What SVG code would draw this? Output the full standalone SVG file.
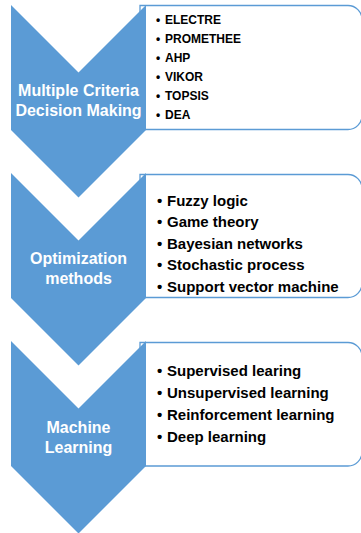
<svg xmlns="http://www.w3.org/2000/svg" width="361" height="533" viewBox="0 0 361 533">
<style>
.chev{fill:#5b9bd5;stroke:none}
.box{fill:#ffffff;stroke:#5b9bd5;stroke-width:1.3}
.lbl{font-family:"Liberation Sans",Arial,sans-serif;font-weight:bold;font-size:16px;fill:#ffffff;text-anchor:middle}
.it1{font-family:"Liberation Sans",Arial,sans-serif;font-weight:bold;font-size:12px;fill:#000000}
.it2{font-family:"Liberation Sans",Arial,sans-serif;font-weight:bold;font-size:15px;fill:#000000}
</style>
<rect width="361" height="533" fill="#ffffff"/>
<g id="connectors"></g>
<g id="node-mcdm">
<path class="box" d="M140,5.5 H348 A14,14 0 0 1 362,19.5 V115.5 A14,14 0 0 1 348,129.5 H140 Z"/>
<polygon class="chev" points="11,5 78.5,72.5 146,5 146,130 78.5,197.5 11,130"/>
<text class="lbl" x="78.5" y="96">Multiple Criteria</text>
<text class="lbl" x="78.5" y="116">Decision Making</text>
<text class="it1"><tspan x="156" y="24">•</tspan><tspan x="165" y="24">ELECTRE</tspan></text>
<text class="it1"><tspan x="156" y="43">•</tspan><tspan x="165" y="43">PROMETHEE</tspan></text>
<text class="it1"><tspan x="156" y="62">•</tspan><tspan x="165" y="62">AHP</tspan></text>
<text class="it1"><tspan x="156" y="81">•</tspan><tspan x="165" y="81">VIKOR</tspan></text>
<text class="it1"><tspan x="156" y="100">•</tspan><tspan x="165" y="100">TOPSIS</tspan></text>
<text class="it1"><tspan x="156" y="119">•</tspan><tspan x="165" y="119">DEA</tspan></text>
</g>
<g id="node-optimization">
<path class="box" d="M140,174.5 H348 A14,14 0 0 1 362,188.5 V283.5 A14,14 0 0 1 348,297.5 H140 Z"/>
<polygon class="chev" points="11,173 78.5,240.5 146,173 146,298 78.5,365.5 11,298"/>
<text class="lbl" x="78.5" y="264">Optimization</text>
<text class="lbl" x="78.5" y="284">methods</text>
<text class="it2"><tspan x="157" y="205.5">•</tspan><tspan x="167" y="205.5">Fuzzy logic</tspan></text>
<text class="it2"><tspan x="157" y="227">•</tspan><tspan x="167" y="227">Game theory</tspan></text>
<text class="it2"><tspan x="157" y="248.5">•</tspan><tspan x="167" y="248.5">Bayesian networks</tspan></text>
<text class="it2"><tspan x="157" y="270">•</tspan><tspan x="167" y="270">Stochastic process</tspan></text>
<text class="it2"><tspan x="157" y="291.5">•</tspan><tspan x="167" y="291.5">Support vector machine</tspan></text>
</g>
<g id="node-ml">
<path class="box" d="M140,342.5 H348 A14,14 0 0 1 362,356.5 V452 A14,14 0 0 1 348,466 H140 Z"/>
<polygon class="chev" points="11,341 78.5,408.5 146,341 146,466 78.5,533.5 11,466"/>
<text class="lbl" x="78.5" y="433">Machine</text>
<text class="lbl" x="78.5" y="453">Learning</text>
<text class="it2"><tspan x="157" y="376">•</tspan><tspan x="167" y="376">Supervised learing</tspan></text>
<text class="it2"><tspan x="157" y="398">•</tspan><tspan x="167" y="398">Unsupervised learning</tspan></text>
<text class="it2"><tspan x="157" y="420">•</tspan><tspan x="167" y="420">Reinforcement learning</tspan></text>
<text class="it2"><tspan x="157" y="442">•</tspan><tspan x="167" y="442">Deep learning</tspan></text>
</g>
</svg>
